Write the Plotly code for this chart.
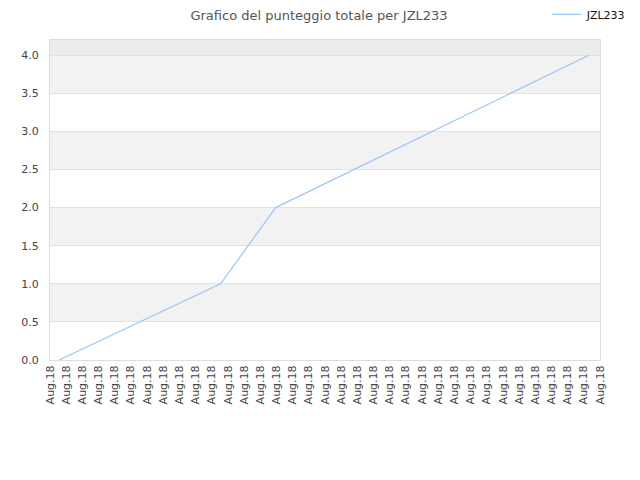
import numpy as np
import plotly.graph_objects as go

# cumulative score at the visible break points (x in elapsed time units)
times = [0, 3.05, 4.09, 10]
scores = [0, 1.0, 2.0, 4.0]
series_name = "JZL233"
tick_label = "Aug.18"
n_ticks = 35

x_lo, x_hi = -0.17, 10.21
tick_pos = np.linspace(x_lo, x_hi, n_ticks)

fig = go.Figure()
fig.add_trace(go.Scatter(x=times, y=scores, mode='lines', name=series_name,
                         line=dict(color='#9ec8f5', width=1.3)))

# alternating background bands
bands = [(0.5, 1.0), (1.5, 2.0), (2.5, 3.0), (3.5, 4.0)]
for b0, b1 in bands:
    fig.add_shape(type='rect', xref='paper', yref='y', x0=0, x1=1, y0=b0, y1=b1,
                  fillcolor='#f2f2f2', line_width=0, layer='below')
fig.add_shape(type='rect', xref='paper', yref='y', x0=0, x1=1, y0=4.0, y1=4.2,
              fillcolor='#ececec', line_width=0, layer='below')

# page has an 8px body margin, so shift the figure up/left by that
fig.update_layout(
    width=640, height=480,
    margin=dict(l=42, r=48, t=32, b=128, autoexpand=False),
    paper_bgcolor='white', plot_bgcolor='white',
    font=dict(family='DejaVu Sans', size=11, color='#444'),
    title=dict(text='Grafico del punteggio totale per JZL233', x=0.486, xanchor='center',
               yref='container', y=0.985, yanchor='middle', font=dict(size=13, color='#555')),
    showlegend=True,
    legend=dict(x=0.903, xanchor='left', y=1.08, yanchor='middle', bgcolor='rgba(0,0,0,0)',
                font=dict(size=11, color='#111')),
    xaxis=dict(range=[x_lo, x_hi], tickmode='array', tickvals=tick_pos,
               ticktext=[tick_label] * n_ticks, tickangle=-90, showgrid=False,
               showline=True, linecolor='#dddddd', mirror=True, zeroline=False,
               ticks='', automargin=False, tickfont=dict(size=11, color='#444')),
    yaxis=dict(range=[0, 4.2], tickvals=[0, 0.5, 1, 1.5, 2, 2.5, 3, 3.5, 4],
               tickformat='.1f', showgrid=True, gridcolor='#e2e2e2', gridwidth=1,
               showline=True, linecolor='#dddddd', mirror=True, zeroline=False,
               ticks='', ticklabelstandoff=8, automargin=False,
               tickfont=dict(size=11, color='#444')),
)

fig.write_html("out.html")
